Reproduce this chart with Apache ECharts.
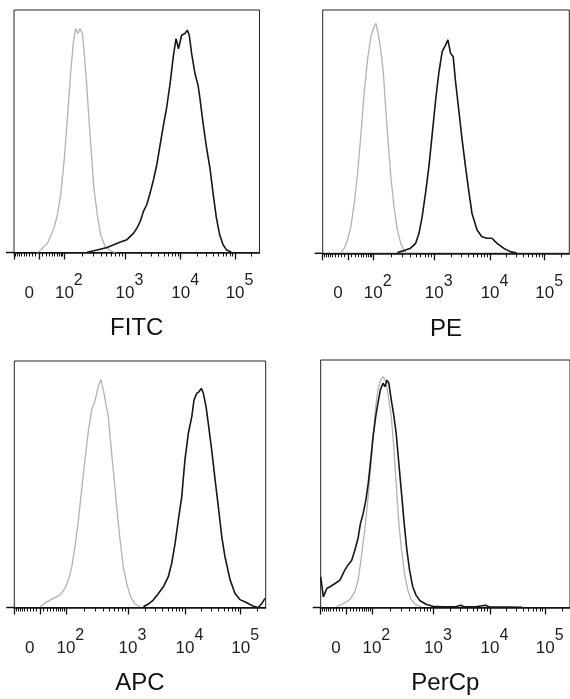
<!DOCTYPE html>
<html>
<head>
<meta charset="utf-8">
<script src="https://cdn.jsdelivr.net/npm/echarts@6/dist/echarts.min.js"></script>
<style>
html, body { margin: 0; padding: 0; background: #fff; }
#main { width: 570px; height: 699px; }
</style>
</head>
<body>
<div id="main"></div>
<script>
// x: 1024-channel biexponential scale, y: % of box height
var panelNames = ['FITC', 'PE', 'APC', 'PerCp'];
var zeroChannel = 105;
var decadeChannels = [210, 463, 695, 922, 1149]; // 10^2 .. 10^6
var tickLabels = ['0', '10^2', '10^3', '10^4', '10^5'];
var labelChannels = [63, 210, 463, 695, 922];

var fitcCtrl = [[98,0],[112,1.1],[140,3.9],[167,10.1],[181,15.6],[195,23.9],[209,37.8],[223,55.6],[236,73.6],[247,86.1],[257,92.4],[267,90.3],[275,92.4],[285,90.3],[292,83.4],[303,69.6],[312,55.8],[322,42],[333,26.8],[347,15.8],[361,7.3],[381,2.4],[402,0.7],[423,0]];
var fitcStain = [[305,0.1],[347,1],[388,2.1],[416,3.2],[444,4.3],[471,5.3],[499,8],[513,10.1],[527,12.9],[540,17],[554,19.8],[568,24.6],[582,30.1],[596,36.4],[610,44.7],[623,52.3],[637,59.9],[651,69.6],[665,81.3],[676,88.2],[686,84],[699,89.6],[713,90.3],[723,91.7],[731,89.6],[741,82],[755,73.7],[768,68.8],[775,64],[789,53],[803,43.3],[817,35],[831,24],[844,14.4],[858,7.3],[872,3.2],[886,1.1],[907,0.1]];
var peCtrl = [[76,0.3],[90,2.1],[103,5.5],[117,11],[131,20.6],[145,32.9],[159,49.3],[172,65.8],[186,79.5],[200,89],[211,92.5],[221,94.5],[230,90.4],[241,83.6],[252,74],[262,58.9],[272,45.2],[283,31.5],[296,19.2],[310,9.6],[324,4.1],[338,1.1],[351,0]];
var peStain = [[310,0.3],[338,1.1],[365,2.1],[386,4.1],[400,8.2],[413,15.1],[427,24.7],[441,35.6],[455,49.3],[469,63],[482,74],[496,82.9],[510,85.6],[520,87.7],[531,82.2],[542,80.8],[551,71.2],[565,58.9],[579,46.6],[593,35.6],[606,26],[620,16.4],[641,9.6],[661,6.8],[682,6.2],[703,6.2],[724,4.1],[751,2.1],[779,0.7],[806,0.1]];
var apcCtrl = [[105,0.3],[132,2.3],[159,3.7],[186,5],[206,7.7],[220,11.1],[234,16.5],[247,24.6],[261,35.4],[274,47.6],[288,59.9],[302,72],[315,80],[329,84],[342,89.6],[352,92.5],[363,88.2],[374,82.1],[383,77.4],[390,69.3],[403,55.8],[417,40.9],[431,27.3],[444,16.5],[458,9.7],[474,4.3],[492,1.4],[512,0.3]];
var apcStain = [[526,0.3],[546,1.4],[566,3],[587,5.7],[607,8.4],[627,12.4],[641,17.9],[655,26],[668,35.4],[682,44.9],[695,59.9],[709,70.7],[723,77.4],[732,84.2],[743,86.9],[752,87.5],[762,88.9],[770,86.9],[781,81.5],[790,74.8],[804,63.9],[818,51.8],[831,40.9],[845,28.8],[858,20.6],[879,11.2],[899,5.7],[919,3.2],[947,1.9],[974,0.5],[994,0],[1008,1.6],[1021,3.7]];
var percpCtrl = [[65,0.3],[93,1.6],[120,3.2],[140,6.3],[154,11.1],[167,20.5],[181,31.3],[195,44.8],[208,59.6],[218,71.8],[226,81.2],[235,87.9],[245,91.9],[256,93.3],[267,91.3],[276,86.6],[290,77.1],[299,66.3],[310,50.1],[321,34],[332,23.2],[344,13.8],[358,7],[371,3.2],[389,1.3],[412,0.3]];
var percpStain = [[0,12.4],[11,4.3],[25,7.7],[38,8.4],[59,9.7],[79,11.1],[99,15.1],[113,17.3],[127,19],[140,23],[154,28.3],[163,33.8],[174,37.8],[185,43.1],[195,49.9],[204,58.2],[215,69],[226,77.1],[235,82.5],[245,87.9],[256,90.6],[264,89.2],[272,91.9],[280,90.6],[290,83.8],[299,78.4],[310,70.4],[321,58.2],[332,46.1],[343,33.9],[354,23.2],[365,15.1],[378,8.4],[392,4.9],[408,2.7],[433,1.3],[460,0.5],[501,0.3],[555,0.3],[575,0.9],[589,0.3],[637,0.3],[677,0.9],[691,0.3],[827,0.1]];

var ctrlData = [fitcCtrl, peCtrl, apcCtrl, percpCtrl];
var stainData = [fitcStain, peStain, apcStain, percpStain];

// value -> channel (linear-ish around 0, log above 100)
function chanOf(v) {
  var a = Math.abs(v);
  if (a <= 100) {
    return zeroChannel + Math.sign(v) * zeroChannel * Math.asinh(a / 50) / Math.asinh(2);
  }
  var lg = Math.log10(a);
  var d = Math.floor(lg);
  var c0 = decadeChannels[d - 2], c1 = decadeChannels[d - 1];
  return c0 + (c1 - c0) * (lg - d);
}

var majorTicks = [chanOf(-100), chanOf(0), chanOf(100), chanOf(1e3), chanOf(1e4), chanOf(1e5)];
var minorTicks = [];
for (var k = 1; k <= 9; k++) {
  minorTicks.push(chanOf(-10 * k));
  minorTicks.push(chanOf(10 * k));
}
for (var d = 2; d <= 4; d++) {
  for (var m = 2; m <= 9; m++) minorTicks.push(chanOf(m * Math.pow(10, d)));
}
minorTicks.push(chanOf(2e5));

var grids = [
  {left: 14, top: 10, width: 245.5, height: 242.5},
  {left: 322.7, top: 10, width: 246.6, height: 243.3},
  {left: 14.3, top: 361, width: 251.4, height: 246.5},
  {left: 320.7, top: 360, width: 251.5, height: 247.5}
];

var font = 'Liberation Sans, Arial, sans-serif';
var txtColor = '#1e1e1e';

function fmt(v) {
  var i = labelChannels.indexOf(v);
  var t = tickLabels[i];
  if (t === '0') return '{z|0}';
  var p = t.split('^');
  return '{b|' + p[0] + '}{s|' + p[1] + '}';
}

var option = {
  backgroundColor: '#fff',
  animation: false,
  grid: [],
  xAxis: [],
  yAxis: [],
  series: [],
  graphic: []
};

for (var i = 0; i < 4; i++) {
  var g = grids[i];
  option.grid.push({
    left: g.left, top: g.top, width: g.width, height: g.height,
    show: true, borderColor: '#222', borderWidth: 1, backgroundColor: 'transparent'
  });
  option.xAxis.push({
    gridIndex: i, type: 'value', min: 0, max: 1024,
    name: panelNames[i], nameLocation: 'middle', nameGap: 64,
    nameTextStyle: {fontSize: 24, color: '#111', fontFamily: font},
    axisLine: {show: true, onZero: false, lineStyle: {color: '#111', width: 1.5}},
    axisTick: {show: true, customValues: majorTicks, length: 7, lineStyle: {color: '#111', width: 1.3}},
    axisLabel: {
      show: true, customValues: labelChannels, margin: 32, formatter: fmt,
      rich: {
        b: {fontSize: 17, color: txtColor, fontFamily: font, padding: [0, 0, 0, 9], lineHeight: 17, verticalAlign: 'bottom'},
        s: {fontSize: 16, color: txtColor, fontFamily: font, padding: [0, 0, 13, 0], lineHeight: 16, verticalAlign: 'bottom'},
        z: {fontSize: 17, color: txtColor, fontFamily: font, padding: [12, 0, 0, 0], lineHeight: 17, verticalAlign: 'bottom'}
      }
    },
    splitLine: {show: false}
  });
  option.xAxis.push({
    gridIndex: i, type: 'value', min: 0, max: 1024, position: 'bottom',
    axisLine: {show: false, onZero: false},
    axisTick: {show: true, customValues: minorTicks, length: 4, lineStyle: {color: '#111', width: 1}},
    axisLabel: {show: false},
    splitLine: {show: false}
  });
  option.yAxis.push({
    gridIndex: i, type: 'value', min: 0, max: 100, show: false, splitLine: {show: false}
  });
  option.series.push({
    type: 'line', xAxisIndex: 2 * i, yAxisIndex: i, data: ctrlData[i],
    showSymbol: false, lineStyle: {color: '#b2b2b2', width: 1.3}, z: 3
  });
  option.series.push({
    type: 'line', xAxisIndex: 2 * i, yAxisIndex: i, data: stainData[i],
    showSymbol: false, lineStyle: {color: '#161616', width: 1.6}, z: 4
  });
  // axis line runs a little past the left of the box
  option.graphic.push({
    type: 'line', z: 10,
    shape: {x1: g.left - 8, y1: g.top + g.height, x2: g.left, y2: g.top + g.height},
    style: {stroke: '#111', lineWidth: 1.5}
  });
}

var chart = echarts.init(document.getElementById('main'));
chart.setOption(option);
</script>
</body>
</html>
